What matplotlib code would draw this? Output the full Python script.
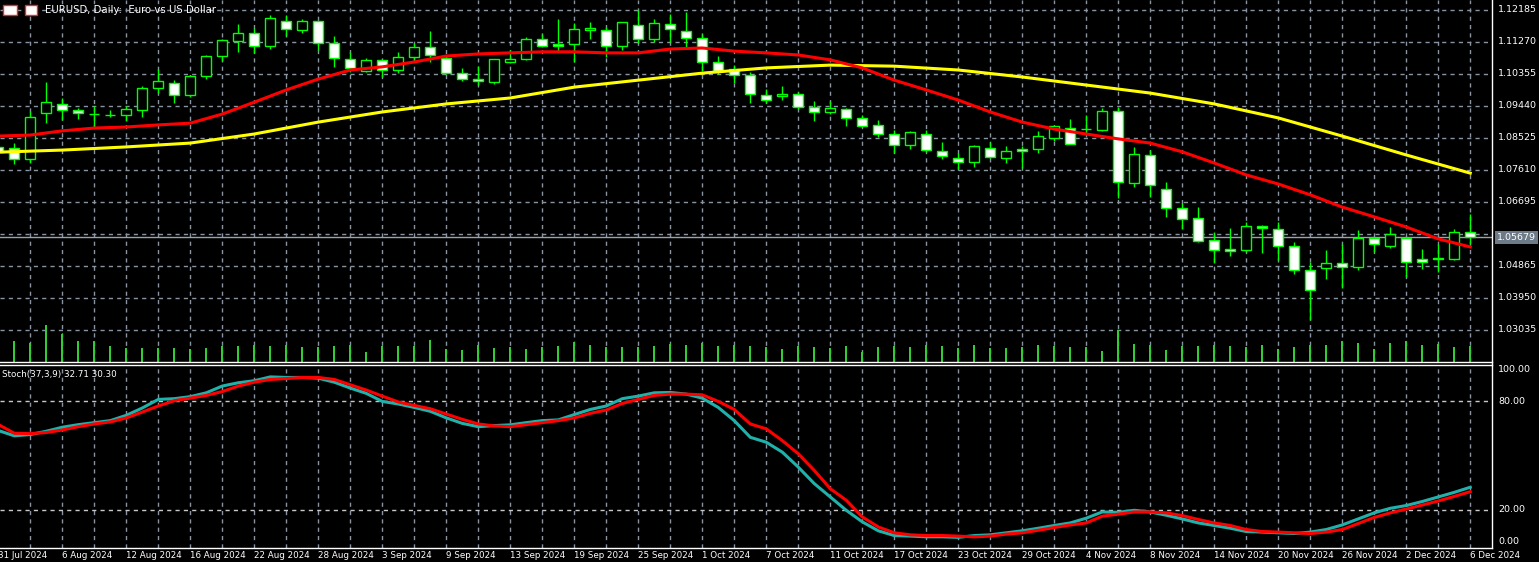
import matplotlib
matplotlib.use("Agg")
import matplotlib.pyplot as plt
import numpy as np

# ---------------- data ----------------
opens = [1.0826,1.0823,1.0792,1.0923,1.0949,1.0932,1.0920,1.0917,1.0917,1.0932,
         1.0995,1.1009,1.0975,1.1029,1.1086,1.1129,1.1152,1.1115,1.1186,1.1160,
         1.1186,1.1123,1.1077,1.1043,1.1075,1.1046,1.1083,1.1112,1.1080,1.1037,
         1.1020,1.1012,1.1069,1.1077,1.1135,1.1120,1.1120,1.1160,1.1160,1.1115,
         1.1175,1.1135,1.1178,1.1157,1.1137,1.1069,1.1049,1.1032,1.0975,1.0973,
         1.0977,1.0940,1.0926,1.0934,1.0909,1.0889,1.0863,1.0832,1.0863,1.0814,
         1.0795,1.0783,1.0823,1.0795,1.0820,1.0820,1.0852,1.0880,1.0877,1.0874,
         1.0929,1.0723,1.0803,1.0706,1.0651,1.0623,1.0560,1.0534,1.0531,1.0600,
         1.0591,1.0543,1.0474,1.0480,1.0494,1.0483,1.0566,1.0543,1.0566,1.0506,
         1.0505,1.0506,1.0583]
highs = [1.0832,1.0837,1.0929,1.1012,1.0966,1.0937,1.0943,1.0932,1.0943,1.1000,
         1.1049,1.1017,1.1032,1.1089,1.1135,1.1177,1.1166,1.1203,1.1203,1.1192,
         1.1186,1.1143,1.1097,1.1080,1.1077,1.1097,1.1123,1.1157,1.1089,1.1052,
         1.1057,1.1077,1.1103,1.1140,1.1149,1.1192,1.1180,1.1183,1.1169,1.1183,
         1.1218,1.1192,1.1206,1.1212,1.1149,1.1086,1.1060,1.1040,1.0992,1.1000,
         1.0983,1.0957,1.0957,1.0937,1.0917,1.0903,1.0874,1.0872,1.0874,1.0840,
         1.0809,1.0832,1.0840,1.0829,1.0829,1.0872,1.0886,1.0906,1.0917,1.0937,
         1.0940,1.0826,1.0817,1.0726,1.0666,1.0654,1.0583,1.0594,1.0611,1.0603,
         1.0611,1.0554,1.0497,1.0531,1.0548,1.0588,1.0569,1.0597,1.0569,1.0534,
         1.0548,1.0591,1.0634]
lows = [1.0806,1.0777,1.0780,1.0894,1.0903,1.0906,1.0883,1.0912,1.0900,1.0912,
        1.0980,1.0952,1.0969,1.1020,1.1072,1.1097,1.1095,1.1106,1.1143,1.1152,
        1.1103,1.1055,1.1040,1.1040,1.1026,1.1037,1.1075,1.1069,1.1035,1.1015,
        1.1003,1.1006,1.1066,1.1075,1.1112,1.1097,1.1069,1.1135,1.1083,1.1103,
        1.1123,1.1126,1.1126,1.1112,1.1043,1.1035,1.1009,1.0952,1.0952,1.0960,
        1.0935,1.0900,1.0920,1.0886,1.0883,1.0854,1.0809,1.0820,1.0812,1.0792,
        1.0763,1.0769,1.0795,1.0780,1.0766,1.0809,1.0843,1.0835,1.0866,1.0872,
        1.0680,1.0712,1.0683,1.0626,1.0591,1.0554,1.0494,1.0514,1.0526,1.0523,
        1.0503,1.0463,1.0331,1.0448,1.0423,1.0474,1.0526,1.0537,1.0454,1.0477,
        1.0469,1.0503,1.0548]
closes = [1.0812,1.0792,1.0912,1.0954,1.0932,1.0923,1.0921,1.0918,1.0934,1.0995,
          1.1015,1.0975,1.1029,1.1086,1.1132,1.1152,1.1115,1.1195,1.1163,1.1186,
          1.1123,1.1080,1.1052,1.1075,1.1046,1.1083,1.1112,1.1089,1.1037,1.1020,
          1.1015,1.1077,1.1077,1.1135,1.1115,1.1115,1.1163,1.1166,1.1115,1.1183,
          1.1135,1.1180,1.1163,1.1137,1.1069,1.1043,1.1032,1.0977,1.0960,1.0977,
          1.0940,1.0926,1.0937,1.0909,1.0886,1.0863,1.0832,1.0869,1.0817,1.0800,
          1.0783,1.0829,1.0797,1.0814,1.0814,1.0857,1.0886,1.0835,1.0878,1.0929,
          1.0726,1.0806,1.0717,1.0651,1.0620,1.0557,1.0531,1.0528,1.0600,1.0594,
          1.0543,1.0474,1.0417,1.0494,1.0483,1.0566,1.0548,1.0577,1.0497,1.0497,
          1.0507,1.0583,1.0568]
volumes = [14,21,19,37,28,21,21,16,14,14,14,14,13,14,16,16,17,16,17,15,
           15,16,17,10,16,16,16,22,13,12,17,14,15,13,15,16,20,17,15,15,
           15,16,18,17,19,16,17,16,15,13,16,15,14,16,10,15,16,15,17,16,
           14,17,14,14,15,17,16,15,15,11,32,18,17,12,16,16,17,16,15,17,
           13,15,17,17,21,19,13,19,21,17,18,15,16]
ma_fast_bars = list(range(0, 93, 2))
ma_fast = [1.0857,1.0860,1.0872,1.0880,1.0883,1.0889,1.0894,1.0920,1.0954,1.0989,
           1.1020,1.1046,1.1055,1.1069,1.1086,1.1092,1.1095,1.1098,1.1098,1.1095,
           1.1095,1.1106,1.1109,1.1100,1.1095,1.1089,1.1075,1.1052,1.1017,1.0989,
           1.0960,1.0926,1.0897,1.0877,1.0863,1.0849,1.0837,1.0812,1.0780,1.0746,
           1.0720,1.0689,1.0654,1.0626,1.0597,1.0563,1.0540]
ma_slow_bars = list(range(0, 93, 4))
ma_slow = [1.0811,1.0817,1.0826,1.0837,1.0863,1.0897,1.0926,1.0949,1.0966,1.0997,
           1.1017,1.1037,1.1052,1.1060,1.1057,1.1046,1.1026,1.1003,1.0980,1.0949,
           1.0909,1.0857,1.0803,1.0751]
stoch_main = [63.7,60.8,61.5,63.3,65.5,66.9,68.0,69.1,72.0,76.0,80.7,81.1,82.2,84.3,88.0,
              89.8,90.9,93.0,92.7,92.7,92.3,90.1,86.9,84.0,79.6,78.2,76.3,74.2,70.6,67.6,
              65.8,66.4,66.8,68.0,69.1,69.5,72.4,75.2,77.1,81.1,82.5,84.3,84.5,83.6,81.4,
              76.3,69.1,60.0,57.3,51.9,43.7,34.7,27.4,20.1,13.8,8.9,6.3,6.0,5.6,5.6,
              5.3,6.3,6.7,7.8,8.9,10.3,11.8,13.2,15.8,19.2,19.0,20.1,19.2,17.4,15.4,
              13.2,11.8,10.3,8.5,8.2,7.8,7.4,8.2,9.6,12.1,15.4,18.7,21.2,22.7,24.9,
              27.4,29.9,32.7]
stoch_signal = [67.0,62.2,62.0,62.6,64.0,65.8,67.3,68.4,70.6,73.8,77.1,80.0,81.4,82.9,85.0,
                88.0,90.1,91.6,92.1,92.7,92.7,91.6,88.7,85.8,82.5,79.3,77.4,75.6,72.7,69.8,
                67.3,66.2,65.8,66.9,68.0,69.1,70.6,73.1,74.9,78.5,80.7,82.9,83.6,83.6,83.2,
                79.6,75.2,67.3,64.6,58.2,51.0,41.9,31.9,25.6,16.5,11.0,7.8,6.7,6.3,6.3,
                6.0,5.6,6.0,7.1,7.8,9.2,10.7,12.1,13.2,16.9,18.0,19.2,19.2,18.7,17.2,
                15.1,13.2,11.8,9.6,8.5,8.2,7.8,7.4,8.2,9.6,12.9,16.2,18.7,20.8,23.0,
                25.2,27.7,30.3]
price_levels = [1.12185,1.11270,1.10355,1.09440,1.08525,1.07610,1.06695,1.05780,1.04865,1.03950,1.03035]
date_labels = ["31 Jul 2024","6 Aug 2024","12 Aug 2024","16 Aug 2024","22 Aug 2024","28 Aug 2024",
               "3 Sep 2024","9 Sep 2024","13 Sep 2024","19 Sep 2024","25 Sep 2024","1 Oct 2024",
               "7 Oct 2024","11 Oct 2024","17 Oct 2024","23 Oct 2024","29 Oct 2024","4 Nov 2024",
               "8 Nov 2024","14 Nov 2024","20 Nov 2024","26 Nov 2024","2 Dec 2024","6 Dec 2024"]
last_price = 1.05679

# ---------------- layout ----------------
W, H = 1539, 562
fig = plt.figure(figsize=(W/100, H/100), dpi=100, facecolor="black")
plt.rcParams['font.family'] = ['DejaVu Sans']
RIGHT = 1492
def fx(px): return px / W
def fy(py): return 1 - py / H

ax = fig.add_axes([0, fy(362), fx(RIGHT), (362)/H], facecolor="black")
axs = fig.add_axes([0, fy(548), fx(RIGHT), (548-365)/H], facecolor="black")
axv = fig.add_axes([0, fy(362), fx(RIGHT), 100/H], facecolor="none")

n = len(opens)
xs = np.arange(n)
XL = (0.106, 93.36)
grid_bars = list(range(2, 93, 2))
label_bars = [4*k for k in range(24)]
gridc = "#8a93a0"

for a in (ax, axs, axv):
    a.set_xlim(*XL)
    a.set_xticks([])
    a.set_yticks([])
    for s in a.spines.values():
        s.set_visible(False)

ax.set_ylim(1.02109, 1.12462)
for p in price_levels:
    ax.axhline(p, color=gridc, lw=1, ls=(0, (3, 3)), zorder=0)
for b in grid_bars:
    ax.axvline(b, color=gridc, lw=1, ls=(0, (3, 3)), zorder=0)
    axs.axvline(b, color=gridc, lw=1, ls=(0, (3, 3)), zorder=0)

ax.axhline(last_price, color="#9aa3ad", lw=1, zorder=1)

# candles
o = np.array(opens); c = np.array(closes); h = np.array(highs); l = np.array(lows)
ax.vlines(xs, l, h, color="#00ff00", lw=1, zorder=3)
bull = c >= o
bottoms = np.minimum(o, c)
heights = np.maximum(np.abs(c - o), 0.00003)
ax.bar(xs[bull], heights[bull], bottom=bottoms[bull], width=0.62,
       facecolor="black", edgecolor="#00ff00", lw=1, zorder=4)
ax.bar(xs[~bull], heights[~bull], bottom=bottoms[~bull], width=0.62,
       facecolor="white", edgecolor="#00ff00", lw=1, zorder=4)

ax.plot(ma_slow_bars, ma_slow, color="#ffff00", lw=2.2, zorder=5)
ax.plot(ma_fast_bars, ma_fast, color="#ff0000", lw=2.2, zorder=5)

# volumes
axv.set_ylim(0, 100)
axv.bar(xs, volumes, width=0.12, color="#32cd32", zorder=2)

# stochastic
axs.set_ylim(-0.5, 99.5)
for lv in (20, 80):
    axs.axhline(lv, color="#c8c8c8", lw=1, ls=(0, (3, 3)), zorder=0)
axs.plot(xs, stoch_main, color="#20b2aa", lw=2.2, zorder=3)
axs.plot(xs, stoch_signal, color="#ff0000", lw=2.2, zorder=4)

# borders
fig.add_artist(plt.Line2D([0, fx(RIGHT)], [fy(362), fy(362)], color="white", lw=1))
fig.add_artist(plt.Line2D([0, fx(RIGHT)], [fy(365), fy(365)], color="white", lw=1))
fig.add_artist(plt.Line2D([0, fx(RIGHT)], [fy(548), fy(548)], color="white", lw=1))
fig.add_artist(plt.Line2D([fx(RIGHT), fx(RIGHT)], [fy(0), fy(548)], color="white", lw=1))

# right price labels
for p in price_levels:
    if abs(p - 1.05780) < 1e-6:
        continue
    ypx = (1.12462 - p) / 0.000286
    fig.text(fx(1498), fy(ypx), f"{p:.5f}", color="white", fontsize=6.8, va="center", ha="left")
ypx = (1.12462 - last_price) / 0.000286
fig.text(fx(1497), fy(ypx), f"{last_price:.5f}", color="white", fontsize=6.8, va="center", ha="left",
         bbox=dict(boxstyle="square,pad=0.2", fc="#6d7a88", ec="none"))

for lv, ypx in ((100, 370), (80, 401), (20, 510), (0, 541)):
    fig.text(fx(1498), fy(ypx), f"{lv:.2f}", color="white", fontsize=6.8, va="center", ha="left")

# date labels (left-aligned at their bar)
for b, lab in zip(label_bars, date_labels):
    px = b * 16 - 1.7
    fig.text(fx(px), fy(555), lab, color="white", fontsize=6.3, va="center", ha="left")

fig.text(fx(45), fy(10), "EURUSD, Daily:  Euro vs US Dollar", color="white", fontsize=7.3, va="center", ha="left")
fig.text(fx(2), fy(374), "Stoch(37,3,9) 32.71 30.30", color="white", fontsize=6.3, va="center", ha="left")
# small header icons
fig.add_artist(plt.Rectangle((fx(3), fy(15)), fx(14), 10/H, fc="white", ec="#e03030", lw=1))
fig.add_artist(plt.Rectangle((fx(25), fy(15)), fx(12), 10/H, fc="white", ec="#e03030", lw=1))

fig.savefig("out.png", dpi=100, facecolor="black")
